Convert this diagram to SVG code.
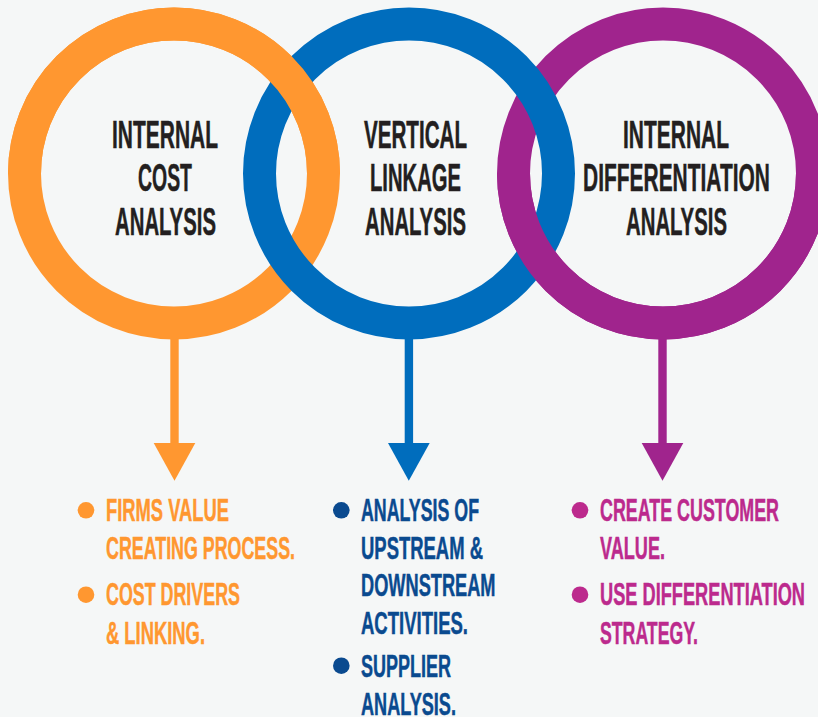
<svg xmlns="http://www.w3.org/2000/svg" width="818" height="717" viewBox="0 0 818 717">
<style>
text{font-family:"Liberation Sans Narrow","Liberation Sans",Arial,sans-serif;font-weight:700;stroke-width:.5}
.t{font-size:38px;fill:#231F20;stroke:#231F20}
.l{font-size:32px}
.ring{fill:none;stroke-width:33}
.o{fill:#FF9730}
.b{fill:#006DBD}
.p{fill:#A0248D}
.n{fill:#0A4A8F}
.m{fill:#BC2A8D}
.o text{stroke:#FF9730}
.n text{stroke:#0A4A8F}
.m text{stroke:#BC2A8D}
</style>
<defs>
<clipPath id="top"><rect x="0" y="0" width="818" height="173.5"/></clipPath>
<clipPath id="bottom"><rect x="0" y="173.5" width="818" height="544"/></clipPath>
</defs>
<rect width="818" height="717" fill="#F5F7F7"/>
<g id="connectors">
<g class="o"><rect x="170.3" y="335" width="8.4" height="110"/><polygon points="153.7,443 195.3,443 174.5,480.7"/></g>
<g class="b"><rect x="404.7" y="335" width="8.4" height="110"/><polygon points="388,443 429.7,443 408.8,480.7"/></g>
<g class="p"><rect x="658.3" y="335" width="8.4" height="110"/><polygon points="641.7,443 683.3,443 662.5,480.7"/></g>
</g>
<g id="rings">
<circle class="ring" cx="174" cy="173.5" r="149.5" stroke="#FF9730"/>
<circle class="ring" cx="663" cy="173.5" r="149.5" stroke="#A0248D"/>
<circle class="ring" cx="409" cy="173.5" r="149.5" stroke="#006DBD"/>
<circle class="ring" cx="174" cy="173.5" r="149.5" stroke="#FF9730" clip-path="url(#top)"/>
<circle class="ring" cx="663" cy="173.5" r="149.5" stroke="#A0248D" clip-path="url(#bottom)"/>
</g>
<g id="node-internal-cost">
<text class="t" transform="translate(112 147.5) scale(.66 1)" textLength="160.6" lengthAdjust="spacingAndGlyphs">INTERNAL</text>
<text class="t" transform="translate(138 191.3) scale(.66 1)" textLength="81.8" lengthAdjust="spacingAndGlyphs">COST</text>
<text class="t" transform="translate(115 235) scale(.66 1)" textLength="153" lengthAdjust="spacingAndGlyphs">ANALYSIS</text>
</g>
<g id="node-vertical-linkage">
<text class="t" transform="translate(364 147.5) scale(.66 1)" textLength="156.1" lengthAdjust="spacingAndGlyphs">VERTICAL</text>
<text class="t" transform="translate(370 191.3) scale(.66 1)" textLength="137.9" lengthAdjust="spacingAndGlyphs">LINKAGE</text>
<text class="t" transform="translate(365 235) scale(.66 1)" textLength="153" lengthAdjust="spacingAndGlyphs">ANALYSIS</text>
</g>
<g id="node-internal-differentiation">
<text class="t" transform="translate(623 147.5) scale(.66 1)" textLength="160.6" lengthAdjust="spacingAndGlyphs">INTERNAL</text>
<text class="t" transform="translate(583 191.3) scale(.66 1)" textLength="283.3" lengthAdjust="spacingAndGlyphs">DIFFERENTIATION</text>
<text class="t" transform="translate(626 235) scale(.66 1)" textLength="153" lengthAdjust="spacingAndGlyphs">ANALYSIS</text>
</g>
<g id="list-cost" class="o">
<circle cx="86" cy="510.3" r="8.3"/>
<circle cx="86" cy="594.7" r="8.3"/>
<text class="l" transform="translate(106 521) scale(.66 1)" textLength="186.4" lengthAdjust="spacingAndGlyphs">FIRMS VALUE</text>
<text class="l" transform="translate(106 559) scale(.66 1)" textLength="286.4" lengthAdjust="spacingAndGlyphs">CREATING PROCESS.</text>
<text class="l" transform="translate(106 605) scale(.66 1)" textLength="203" lengthAdjust="spacingAndGlyphs">COST DRIVERS</text>
<text class="l" transform="translate(106 644) scale(.66 1)" textLength="150" lengthAdjust="spacingAndGlyphs">&amp; LINKING.</text>
</g>
<g id="list-linkage" class="n">
<circle cx="341.3" cy="510.3" r="8.3"/>
<circle cx="341.3" cy="665.7" r="8.3"/>
<text class="l" transform="translate(361 521) scale(.66 1)" textLength="178.8" lengthAdjust="spacingAndGlyphs">ANALYSIS OF</text>
<text class="l" transform="translate(361 559) scale(.66 1)" textLength="184.8" lengthAdjust="spacingAndGlyphs">UPSTREAM &amp;</text>
<text class="l" transform="translate(361 596) scale(.66 1)" textLength="203.8" lengthAdjust="spacingAndGlyphs">DOWNSTREAM</text>
<text class="l" transform="translate(361 634) scale(.66 1)" textLength="162.1" lengthAdjust="spacingAndGlyphs">ACTIVITIES.</text>
<text class="l" transform="translate(361 676.5) scale(.66 1)" textLength="136.4" lengthAdjust="spacingAndGlyphs">SUPPLIER</text>
<text class="l" transform="translate(361 715) scale(.66 1)" textLength="143.9" lengthAdjust="spacingAndGlyphs">ANALYSIS.</text>
</g>
<g id="list-differentiation" class="m">
<circle cx="580" cy="510.3" r="8.3"/>
<circle cx="580" cy="594.7" r="8.3"/>
<text class="l" transform="translate(600 521) scale(.66 1)" textLength="271.2" lengthAdjust="spacingAndGlyphs">CREATE CUSTOMER</text>
<text class="l" transform="translate(600 559) scale(.66 1)" textLength="98.5" lengthAdjust="spacingAndGlyphs">VALUE.</text>
<text class="l" transform="translate(600 605) scale(.6 1)" textLength="341.7" lengthAdjust="spacingAndGlyphs">USE DIFFERENTIATION</text>
<text class="l" transform="translate(600 644) scale(.66 1)" textLength="148.5" lengthAdjust="spacingAndGlyphs">STRATEGY.</text>
</g>
</svg>
